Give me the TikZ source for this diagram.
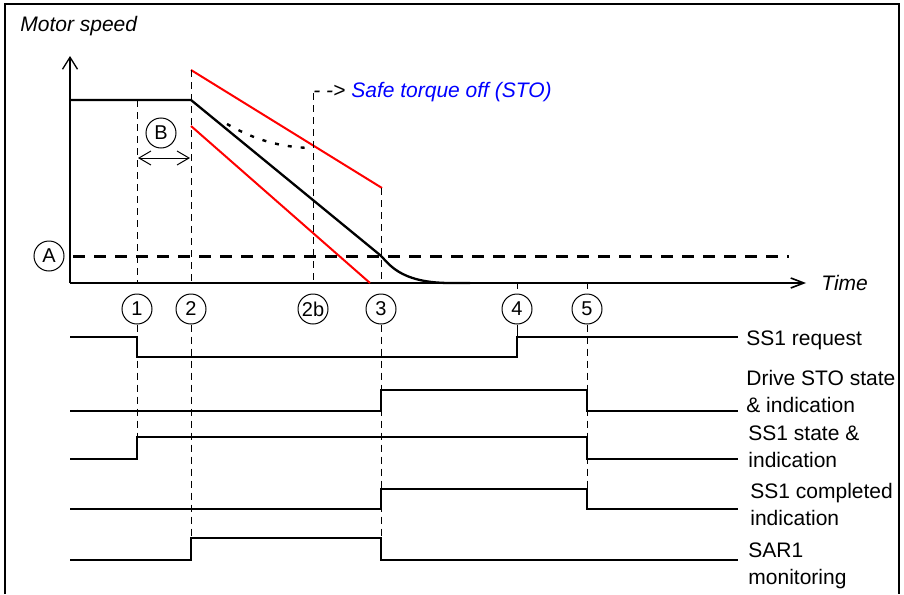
\documentclass[tikz,border=0pt]{standalone}
\usepackage{fontspec}
\setmainfont{Liberation Sans}
\usetikzlibrary{arrows.meta}
\definecolor{stoblue}{RGB}{0,0,255}
\definecolor{limitred}{RGB}{255,0,0}

\tikzset{
	num/.style={circle, draw, line width=0.5pt, minimum size=15pt, inner sep=0pt,
		font=\fontsize{10}{10}\selectfont},
	guide/.style={line width=0.5pt, dash pattern=on 3.5pt off 2.5pt},
	signal/.style={line width=0.65pt},
	speed/.style={line width=1.15pt, line join=round},
	limit/.style={draw=limitred, line width=1pt},
	siglabel/.style={anchor=base west, inner sep=0pt, align=left},
	barb/.style={-{Straight Barb[length=6pt,width=7.5pt]}}
}

\begin{document}
\fontsize{10.5}{13.5}\selectfont
\begin{tikzpicture}[x=0.5pt,y=-0.5pt]
	\useasboundingbox (0,0) rectangle (904,594);
	\draw[line width=0.65pt] (5,594) -- (5,4) -- (899,4) -- (899,594);
	
	% axes
	\coordinate (origin) at (70,283);
	\coordinate (ytop) at (70,56);
	\coordinate (xend) at (806,283);
	\draw[line width=0.65pt, barb] (origin) -- (ytop);
	\draw[line width=0.8pt, -{Straight Barb[length=6.5pt,width=5pt]}] (origin) -- (xend);
	\node[anchor=base west, inner sep=0pt, font=\fontsize{10.5}{13.5}\selectfont\itshape] (yname) at (20,32) {Motor speed};
	\node[anchor=base west, inner sep=0pt, font=\fontsize{10.5}{13.5}\selectfont\itshape] (xname) at (821,290) {Time};
	
	% limits and speed
	\draw[limit] (191,70) -- (382,188);
	\draw[limit] (191,126) -- (370,283);
	\draw[speed] (70,100) -- (191,100) -- (380,255)
		.. controls (388,262) and (398,283) .. (450,283) -- (470,283);
	\draw[line width=1.2pt, dash pattern=on 2pt off 4.5pt]
		(227,124) .. controls (255,140) and (280,147) .. (310,148);
	
	% level A and delay B
	\draw[line width=1.5pt, dash pattern=on 6pt off 4.5pt] (73,256) -- (789,256);
	\node[num] (lvlA) at (49,256) {A};
	\node[num] (dlyB) at (161,133) {B};
	\coordinate (b1) at (138,158);
	\coordinate (b2) at (190,158);
	\draw[line width=0.5pt, {Straight Barb[length=6pt,width=7pt]}-{Straight Barb[length=6pt,width=7pt]}] (b1) -- (b2);
	
	% time points
	\foreach \n/\x in {1/137, 2/191, 2b/313, 3/381, 4/517, 5/587}
		\node[num] (t\n) at (\x,309) {\n};
	
	\draw[guide] (137,100) -- (137,283);
	\draw[guide] (191,70) -- (191,283);
	\draw[guide] (313,93) -- (313,283);
	\draw[guide] (381,188) -- (381,283);
	\draw[guide] (t1.south) -- (137,437);
	\draw[guide] (t2.south) -- (191,538);
	\draw[guide] (t3.south) -- (381,538);
	\draw[guide] (t5.south) -- (587,509);
	\draw[line width=0.5pt] (t4.south) -- (517,337);
	\draw[line width=0.5pt] (517,283) -- (517,289);
	\draw[line width=0.5pt] (587,283) -- (587,289);
	
	\node[anchor=base west, inner sep=0pt, font=\fontsize{10.5}{13.5}\selectfont\itshape] (sto) at (313,97)
		{- -> \textcolor{stoblue}{Safe torque off (STO)}};
	
	% signals
	\draw[signal] (70,337) -- (137,337) -- (137,357) -- (517,357) -- (517,337) -- (738,337);
	\draw[signal] (70,411) -- (381,411) -- (381,390) -- (587,390) -- (587,411) -- (738,411);
	\draw[signal] (70,459) -- (137,459) -- (137,437) -- (587,437) -- (587,459) -- (738,459);
	\draw[signal] (70,509) -- (381,509) -- (381,489) -- (587,489) -- (587,509) -- (738,509);
	\draw[signal] (70,560) -- (191,560) -- (191,538) -- (381,538) -- (381,560) -- (738,560);
	
	% labels (base = last line)
	\node[siglabel] (req) at (746,345) {SS1 request};
	\node[siglabel] (drv) at (746,412) {Drive STO state\\\& indication};
	\node[siglabel] (sst) at (748,467) {SS1 state \&\\indication};
	\node[siglabel] (cmp) at (750,525) {SS1 completed\\indication};
	\node[siglabel] (sar) at (748,584) {SAR1\\monitoring};
\end{tikzpicture}
\end{document}
